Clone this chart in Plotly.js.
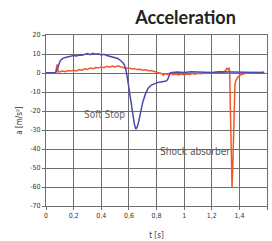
<!DOCTYPE html>
<html>
<head>
<meta charset="utf-8">
<script src="https://cdn.plot.ly/plotly-3.0.1.min.js"></script>
<style>
html,body{margin:0;padding:0;background:#fff;}
#chart{width:272px;height:241px;}
</style>
</head>
<body>
<div id="chart"></div>
<script>
// Soft Stop (blue) series
var softStopTime = [0, 0.05, 0.07, 0.08, 0.09, 0.10, 0.11, 0.12, 0.14, 0.16, 0.18, 0.20, 0.22, 0.24, 0.26, 0.28, 0.30, 0.32, 0.34, 0.36, 0.38, 0.40, 0.42, 0.44, 0.46, 0.48, 0.50, 0.52, 0.54, 0.56, 0.57, 0.58, 0.59, 0.60, 0.61, 0.62, 0.63, 0.64, 0.65, 0.66, 0.67, 0.68, 0.69, 0.70, 0.72, 0.74, 0.76, 0.78, 0.80, 0.82, 0.84, 0.86, 0.87, 0.88, 0.89, 0.90, 0.95, 1.00, 1.05, 1.10, 1.15, 1.20, 1.25, 1.30, 1.35, 1.40, 1.45, 1.50, 1.55, 1.58];
var softStopAccel = [0, 0, 0.3, 1.5, 4, 6, 7, 7.6, 8.2, 8.6, 8.8, 9.2, 8.9, 9.5, 9.3, 9.8, 10.2, 9.6, 10.4, 9.9, 10.1, 9.5, 9.8, 9.2, 8.9, 8.6, 8.3, 7.6, 6.6, 5.2, 3.8, 1.2, -3, -8, -13, -18, -23, -27, -29.5, -28.5, -26, -22, -18.5, -15.5, -11, -8, -6.5, -5.8, -5.2, -4.9, -4.6, -4.3, -4.2, -3.5, -1, 0.2, 0.5, 0.3, 0.6, 0.4, 0.5, 0.3, 0.6, 0.5, 0.4, 0.3, 0.5, 0.4, 0.3, 0.4];

// Shock absorber (orange) series
var shockTime = [0, 0.06, 0.07, 0.075, 0.08, 0.085, 0.09, 0.10, 0.12, 0.14, 0.16, 0.18, 0.20, 0.22, 0.24, 0.26, 0.28, 0.30, 0.32, 0.34, 0.36, 0.38, 0.40, 0.42, 0.44, 0.46, 0.48, 0.50, 0.52, 0.54, 0.56, 0.58, 0.60, 0.62, 0.64, 0.66, 0.68, 0.70, 0.72, 0.74, 0.76, 0.78, 0.80, 0.82, 0.84, 0.85, 0.86, 0.88, 0.90, 0.92, 0.94, 0.96, 0.98, 1.00, 1.02, 1.04, 1.06, 1.08, 1.10, 1.12, 1.14, 1.16, 1.18, 1.20, 1.22, 1.24, 1.26, 1.28, 1.30, 1.31, 1.32, 1.325, 1.33, 1.335, 1.34, 1.347, 1.352, 1.357, 1.362, 1.368, 1.375, 1.39, 1.41, 1.44, 1.48, 1.52, 1.56, 1.58];
var shockAccel = [0, 0, 0.5, 3.5, 4.5, 2, 0.5, 0.6, 1.0, 0.7, 1.3, 1.0, 1.4, 1.1, 1.8, 1.5, 2.2, 1.9, 2.6, 2.3, 2.9, 2.6, 3.2, 2.8, 3.5, 3.0, 3.6, 3.2, 3.8, 3.3, 3.0, 2.4, 2.8, 2.1, 2.4, 1.8, 2.0, 1.5, 1.7, 1.2, 1.3, 0.9, 0.8, 0.3, -0.4, -1.2, -0.3, -0.8, -0.2, -0.9, -0.5, -1.0, -0.6, -0.9, -0.5, -0.8, -0.3, -0.6, -0.2, -0.4, 0.0, -0.2, 0.2, 0.0, 0.3, 0.1, 0.5, 0.4, 1.2, 2.5, 1.8, 2.8, 0.5, -20, -45, -60, -50, -30, -12, -6, -4, -2, -1, -0.3, 0.1, 0.2, 0.1, 0.2];

// Axis ticks
var xTickVals = [0, 0.2, 0.4, 0.6, 0.8, 1, 1.2, 1.4, 1.6];
var xTickText = ['0', '0,2', '0,4', '0,6', '0,8', '1', '1,2', '1,4', '1,6'];
var yTickVals = [20, 10, 0, -10, -20, -30, -40, -50, -60, -70];
var yTickText = ['20', '10', '0', '-10', '-20', '-30', '-40', '-50', '-60', '-70'];

var narrow = '"Liberation Sans Narrow", "DejaVu Sans Condensed", "Roboto", sans-serif';

var traces = [
  {x: shockTime, y: shockAccel, type: 'scatter', mode: 'lines',
   line: {color: '#ee5a2a', width: 1.5}, hoverinfo: 'skip'},
  {x: softStopTime, y: softStopAccel, type: 'scatter', mode: 'lines',
   line: {color: '#4b48b0', width: 1.5}, hoverinfo: 'skip'}
];

var axisCommon = {
  showgrid: true, gridcolor: '#6e6e6e', gridwidth: 1,
  showline: true, linecolor: '#6e6e6e', linewidth: 1, mirror: true,
  ticks: 'outside', ticklen: 3, tickcolor: '#6e6e6e',
  tickfont: {family: narrow, size: 7, color: '#333'},
  zeroline: false
};

var layout = {
  width: 272, height: 241,
  margin: {l: 46, r: 5, t: 35, b: 35},
  paper_bgcolor: '#fff', plot_bgcolor: '#fff',
  showlegend: false,
  title: {text: '<b>Acceleration</b>', font: {family: 'Lato, sans-serif', size: 18, color: '#222'},
          x: 0.682, xref: 'container', xanchor: 'center', y: 0.925, yref: 'container', yanchor: 'middle'},
  xaxis: Object.assign({}, axisCommon, {
    range: [0, 1.6], tickvals: xTickVals, ticktext: xTickText,
    title: {text: 't [s]', font: {family: narrow, size: 8, color: '#333'}, standoff: 12}
  }),
  yaxis: Object.assign({}, axisCommon, {
    range: [-70, 20], tickvals: yTickVals, ticktext: yTickText,
    title: {text: 'a [m/s²]', font: {family: narrow, size: 8, color: '#333'}, standoff: 6}
  }),
  annotations: [
    {x: 0.427, y: -22, xref: 'x', yref: 'y', text: 'Soft Stop', showarrow: false,
     font: {family: narrow, size: 10, color: '#666'}},
    {x: 1.079, y: -41.4, xref: 'x', yref: 'y', text: 'Shock absorber', showarrow: false,
     font: {family: narrow, size: 10, color: '#555'}}
  ]
};

Plotly.newPlot('chart', traces, layout, {staticPlot: true, displayModeBar: false});
</script>
</body>
</html>
